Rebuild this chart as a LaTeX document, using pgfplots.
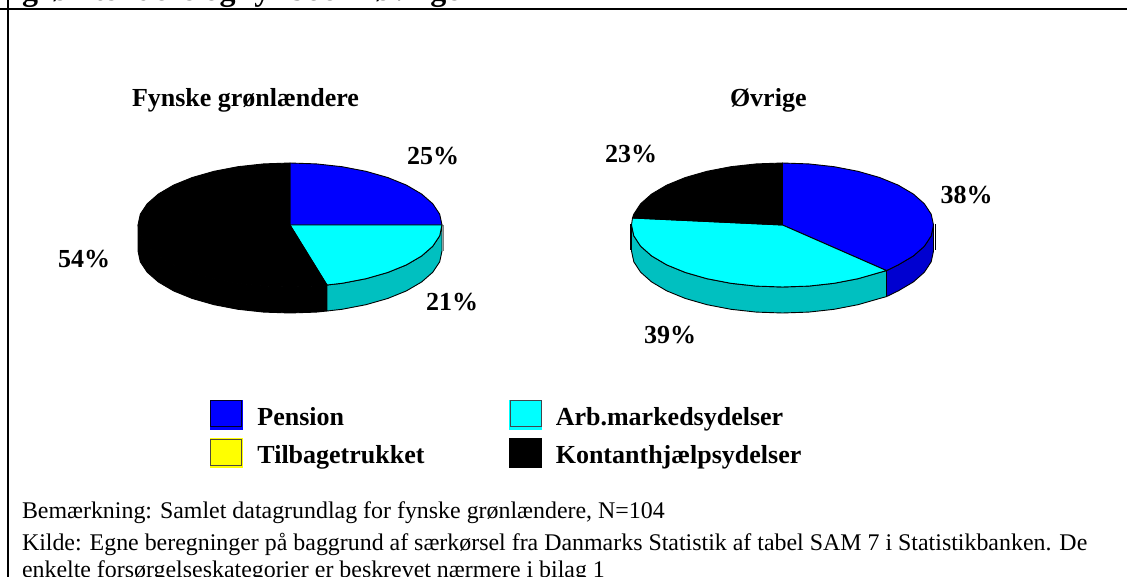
\documentclass[border=0pt]{standalone}
\usepackage{pgfplots}
\pgfplotsset{compat=1.18}
\usepackage{fontspec}
\setmainfont{Liberation Serif}
\definecolor{pblue}{RGB}{0,0,255}
\definecolor{pcyan}{RGB}{0,255,255}
\definecolor{pteal}{RGB}{0,192,192}
\definecolor{pdblue}{RGB}{0,0,208}
\definecolor{pyellow}{RGB}{255,255,0}
\pgfplotsset{
  sl/.style={forget plot,no markers,draw=black,line width=0.9pt,line join=round,fill=#1},
  ln/.style={forget plot,no markers,draw=#1,line width=1.7pt},
  swatch/.style 2 args={legend image code/.code={
    \fill[#1] (0pt,-4pt) rectangle (32pt,25pt);
    \draw[#2,line width=0.8pt] (0.4pt,-1.6pt) rectangle (31.6pt,24.6pt);
  }}
}
\newcommand{\bigb}{\fontsize{26}{26}\selectfont\bfseries}
\newcommand{\titl}{\fontsize{32}{32}\selectfont\bfseries}
\newcommand{\reg}{\fontsize{23.9}{24}\selectfont}
\begin{document}
\begin{tikzpicture}
\begin{axis}[
  at={(0pt,0pt)},anchor=south west,
  scale only axis,width=1127pt,height=577pt,
  xmin=0,xmax=1127,ymin=0,ymax=577,y dir=reverse,
  hide axis,clip=false,
  legend style={at={(axis cs:210,400)},anchor=north west,draw=none,fill=none,
    legend columns=2,inner sep=0pt,outer sep=0pt,
    nodes={inner sep=0pt,outer sep=0pt,anchor=base west},
    /tikz/column 1/.style={column sep=15pt},
    /tikz/column 2/.style={column sep=0pt},
    /tikz/column 3/.style={column sep=14pt},
    row sep=9pt,font=\bigb},
  legend cell align=left,
]
% frame
\addplot[ln=black] coordinates {(0,9) (1127,9)};
\addplot[ln=black] coordinates {(8,0) (8,577)};
% ---- left pie ----
\addplot[sl=black] coordinates {(138,225) (138,251) (140.3,261.8) (147.2,272.2) (158.4,282) (173.6,290.9) (192.3,298.5) (214,304.7) (238,309.3) (263.6,312.1) (290,313) (316.4,312.1) (327,311) (327,285) (316.4,286.1) (290,287) (263.6,286.1) (238,283.3) (214,278.7) (192.3,272.5) (173.6,264.9) (158.4,256) (147.2,246.2) (140.3,235.8)} --cycle;
\addplot[sl=pteal] coordinates {(442,225) (442,251) (439.7,261.8) (432.8,272.2) (421.6,282) (406.4,290.9) (387.7,298.5) (366,304.7) (342,309.3) (327,311) (327,285) (342,283.3) (366,278.7) (387.7,272.5) (406.4,264.9) (421.6,256) (432.8,246.2) (439.7,235.8)} --cycle;
\addplot[forget plot,no markers,draw=gray,line width=1pt] coordinates {(443,225) (443,251)};
\addplot[sl=pblue] coordinates {(290,225) (290,163) (316.4,163.9) (342,166.7) (366,171.3) (387.7,177.5) (406.4,185.1) (421.6,194) (432.8,203.8) (439.7,214.2) (442,225)} --cycle;
\addplot[sl=pcyan] coordinates {(290,225) (442,225) (439.7,235.8) (432.8,246.2) (421.6,256) (406.4,264.9) (387.7,272.5) (366,278.7) (342,283.3) (327,285)} --cycle;
\addplot[sl=black] coordinates {(290,225) (327,285) (316.4,286.1) (290,287) (263.6,286.1) (238,283.3) (214,278.7) (192.3,272.5) (173.6,264.9) (158.4,256) (147.2,246.2) (140.3,235.8) (138,225) (140.3,214.2) (147.2,203.8) (158.4,194) (173.6,185.1) (192.3,177.5) (214,171.3) (238,166.7) (263.6,163.9) (290,163)} --cycle;
% ---- right pie ----
\addplot[sl=pdblue] coordinates {(933.5,225) (933.5,251) (931.2,261.8) (924.4,272.2) (913.3,282) (898.2,290.9) (886.5,296.6) (886.5,270.6) (898.2,264.9) (913.3,256) (924.4,246.2) (931.2,235.8)} --cycle;
\addplot[sl=pteal] coordinates {(886.5,270.6) (886.5,296.6) (879.6,298.5) (858,304.7) (834.1,309.3) (808.7,312.1) (782.5,313) (756.3,312.1) (730.9,309.3) (707,304.7) (685.4,298.5) (666.8,290.9) (651.7,282) (640.6,272.2) (633.8,261.8) (631.5,251) (631.5,225) (633.8,235.8) (640.6,246.2) (651.7,256) (666.8,264.9) (685.4,272.5) (707,278.7) (730.9,283.3) (756.3,286.1) (782.5,287) (808.7,286.1) (834.1,283.3) (858,278.7) (879.6,272.5)} --cycle;
\addplot[forget plot,no markers,draw=black,line width=1pt] coordinates {(630,224) (630,250)};
\addplot[forget plot,no markers,draw=black,line width=1pt] coordinates {(935.5,224) (935.5,250)};
\addplot[sl=pblue] coordinates {(782.5,225) (782.5,163) (808.7,163.9) (834.1,166.7) (858,171.3) (879.6,177.5) (898.2,185.1) (913.3,194) (924.4,203.8) (931.2,214.2) (933.5,225) (931.2,235.8) (924.4,246.2) (913.3,256) (898.2,264.9) (886.5,270.6)} --cycle;
\addplot[sl=pcyan] coordinates {(782.5,225) (886.5,270.6) (879.6,272.5) (858,278.7) (834.1,283.3) (808.7,286.1) (782.5,287) (756.3,286.1) (730.9,283.3) (707,278.7) (685.4,272.5) (666.8,264.9) (651.7,256) (640.6,246.2) (633.8,235.8) (631.5,225) (632.5,218)} --cycle;
\addplot[sl=black] coordinates {(782.5,225) (632.5,218) (633.8,214.2) (640.6,203.8) (651.7,194) (666.8,185.1) (685.4,177.5) (707,171.3) (730.9,166.7) (756.3,163.9) (782.5,163)} --cycle;
% legend
\addlegendimage{swatch={pblue}{black!85!blue}}
\addlegendentry{\makebox[252pt][l]{Pension}}
\addlegendimage{swatch={pcyan}{black!80!cyan}}
\addlegendentry{Arb.markedsydelser}
\addlegendimage{swatch={pyellow}{black!80!yellow}}
\addlegendentry{\makebox[252pt][l]{Tilbagetrukket}}
\addlegendimage{swatch={black}{black}}
\addlegendentry{Kontanthjælpsydelser}
% texts
\tikzset{t/.style={anchor=base west,inner sep=0pt,outer sep=0pt}}
\node[t,font=\titl] at (axis cs:22,0.5) {grønlændere og fynboer i øvrige};
\node[t,font=\bigb] at (axis cs:132,107) {Fynske grønlændere};
\node[t,font=\bigb] at (axis cs:730,107) {Øvrige};
\node[t,font=\bigb] at (axis cs:407,165) {25\%};
\node[t,font=\bigb] at (axis cs:58,268) {54\%};
\node[t,font=\bigb] at (axis cs:426,311) {21\%};
\node[t,font=\bigb] at (axis cs:605,163) {23\%};
\node[t,font=\bigb] at (axis cs:940.5,204) {38\%};
\node[t,font=\bigb] at (axis cs:644,343) {39\%};
\node[t,font=\reg] at (axis cs:22,518) {Bemærkning: Samlet datagrundlag for fynske grønlændere, N=104};
\node[t,font=\reg] at (axis cs:22,550) {Kilde: Egne beregninger på baggrund af særkørsel fra Danmarks Statistik af tabel SAM 7 i Statistikbanken. De};
\node[t,font=\reg] at (axis cs:22,577) {enkelte forsørgelseskategorier er beskrevet nærmere i bilag 1};
\end{axis}
\pgfresetboundingbox
\path[use as bounding box] (0pt,0pt) rectangle (1127pt,577pt);
\end{tikzpicture}
\end{document}
